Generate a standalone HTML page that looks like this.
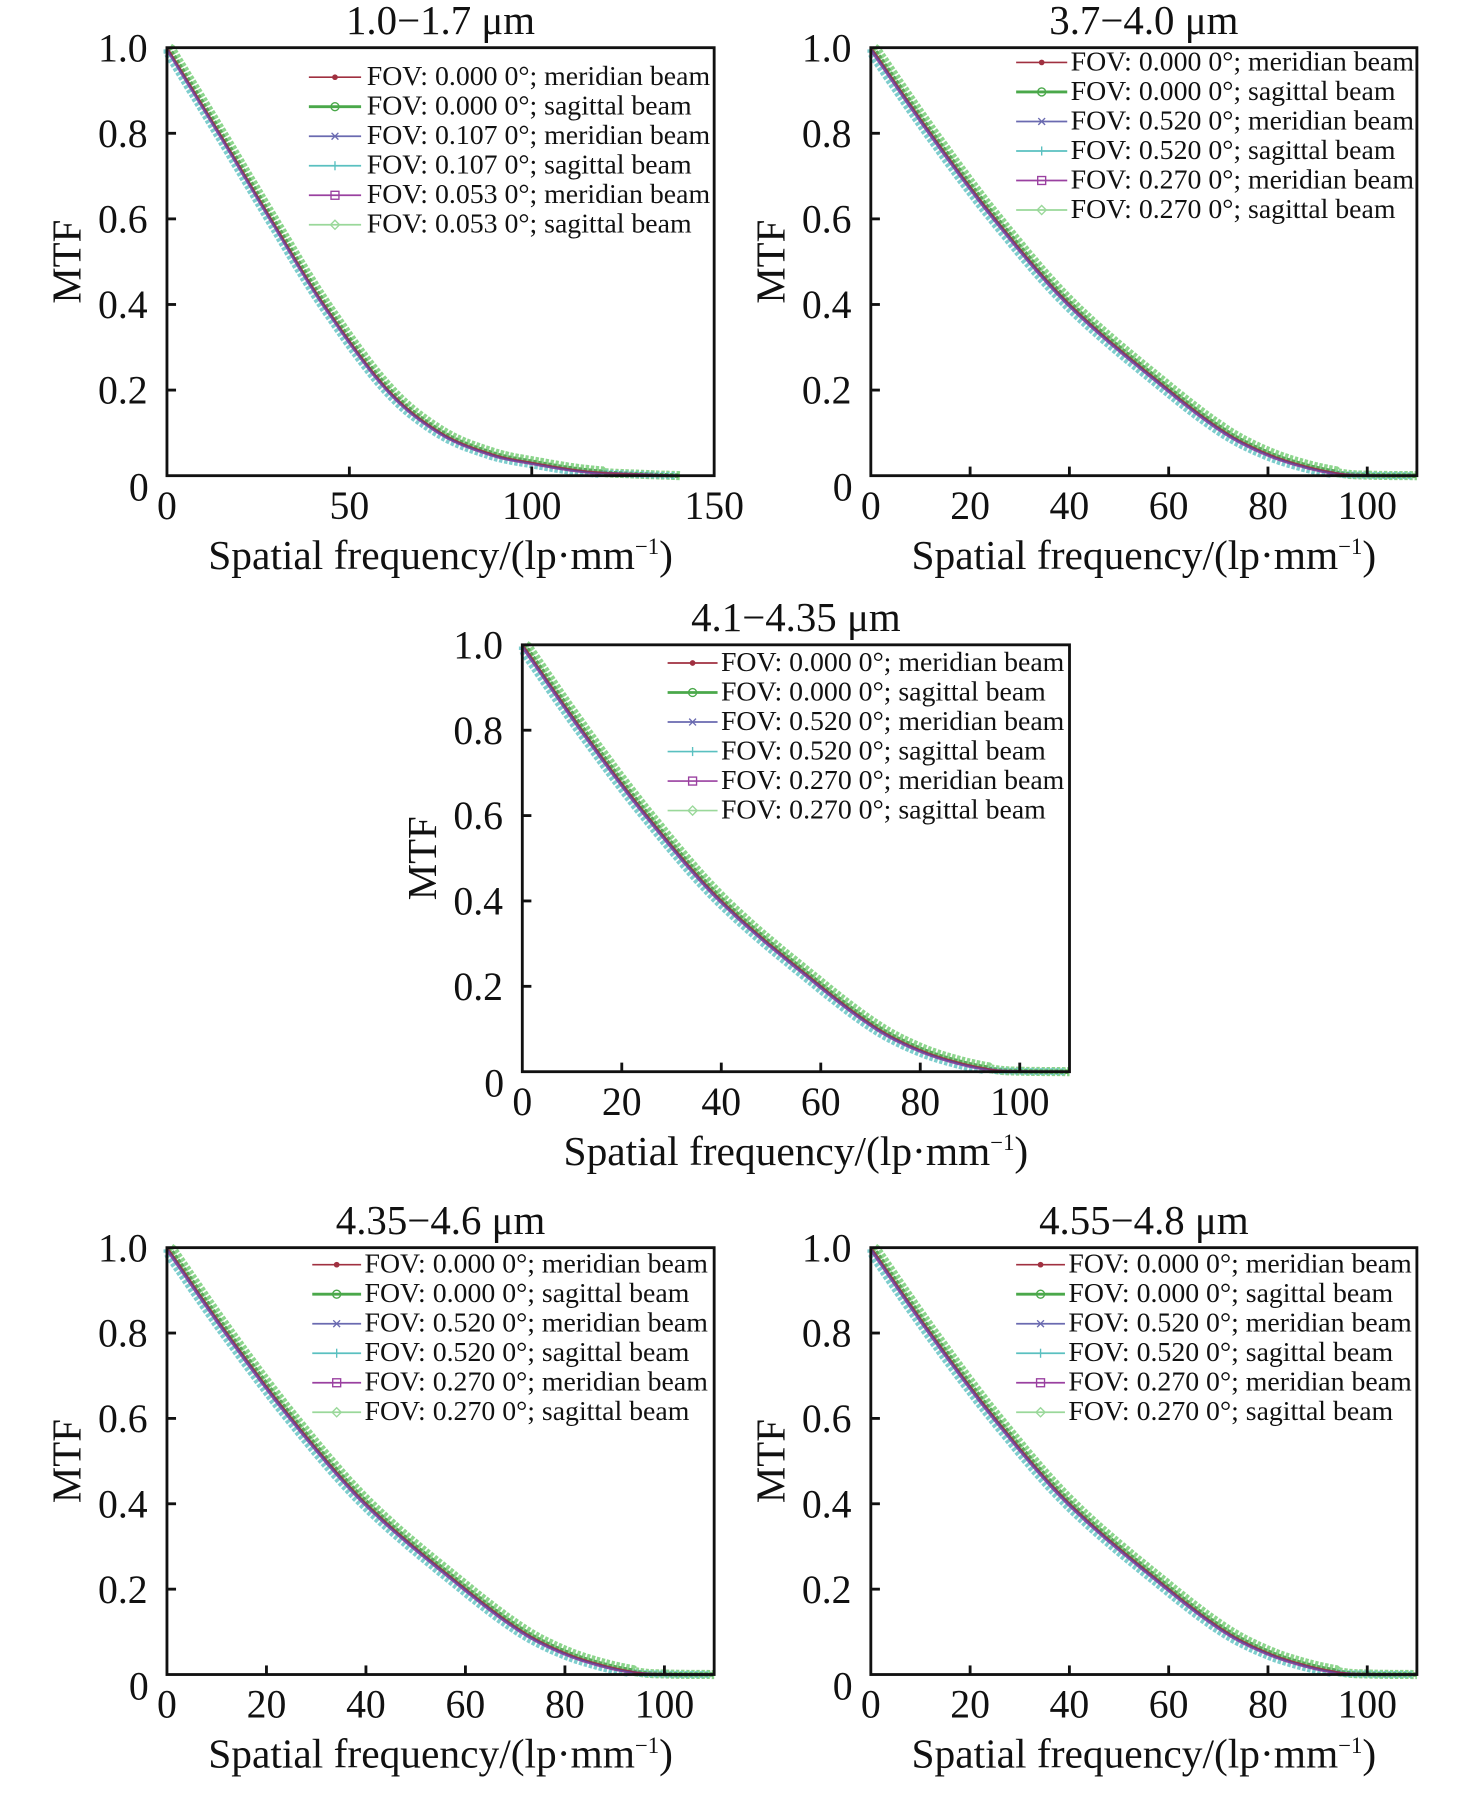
<!DOCTYPE html>
<html><head><meta charset="utf-8">
<style>
html,body{margin:0;padding:0;background:#fff;}
svg{display:block;}
text{font-family:"Liberation Serif","Times New Roman",serif;fill:#111;}
</style></head>
<body>
<svg id="s" width="1476" height="1796" viewBox="0 0 1300 1582" xmlns="http://www.w3.org/2000/svg">
<rect width="1300" height="1582" fill="#fff"/>
<g id="g"></g>
</svg>
<script>
var NS="http://www.w3.org/2000/svg";
var G=document.getElementById("g");
function el(t,a,txt){var e=document.createElementNS(NS,t);for(var k in a)e.setAttribute(k,a[k]);if(txt!==undefined)e.textContent=txt;G.appendChild(e);return e;}
function interp(pts,f){
  if(f<=pts[0][0])return pts[0][1];
  for(var i=0;i<pts.length-1;i++){
    if(f<=pts[i+1][0]){
      var p0=pts[Math.max(i-1,0)],p1=pts[i],p2=pts[i+1],p3=pts[Math.min(i+2,pts.length-1)];
      var t=(f-p1[0])/(p2[0]-p1[0]);
      var m1=(p2[1]-p0[1])/(p2[0]-p0[0])*(p2[0]-p1[0]);
      var m2=(p3[1]-p1[1])/(p3[0]-p1[0])*(p2[0]-p1[0]);
      var t2=t*t,t3=t2*t;
      return (2*t3-3*t2+1)*p1[1]+(t3-2*t2+t)*m1+(-2*t3+3*t2)*p2[1]+(t3-t2)*m2;
    }
  }
  return pts[pts.length-1][1];
}
var P1=[[0,1],[14.4,0.8],[28.5,0.6],[43,0.4],[60.6,0.2],[75,0.1],[89,0.05],[100,0.03],[115,0.01],[130,0.003],[140,0]];
var P2=[[0,1],[12,0.8],[25,0.6],[40,0.4],[60,0.2],[71.5,0.1],[80,0.05],[88,0.02],[95,0.004],[100,0.001],[110,0]];
function panel(o){
  var L=o.L,R=o.R,T=o.T,B=o.B,xmax=o.xmax;
  function X(f){return L+f/xmax*(R-L);}
  function Y(v){return B-v*(B-T);}
  var series=[
    {c:"#7fd07f",w:8,dx:0.7,dy:0.004,op:0.9},
    {c:"#6fc8c8",w:6,dx:-0.7,dy:-0.004,op:0.9},
    {c:"#5aa85a",w:4,dx:0.3,dy:0.002,op:1},
    {c:"#8a3a9a",w:2.2,dx:-0.2,dy:-0.002,op:0.9},
    {c:"#4a4aa0",w:1.5,dx:0,dy:0,op:0.8},
    {c:"#a03040",w:1.2,dx:0.1,dy:0.001,op:0.8}
  ];
  var fmax=o.fend;
  series.forEach(function(s,i){
    var d="";
    for(var f=0;f<=fmax;f+=0.5){
      var v=Math.max(0,interp(o.pts,f)+ (f<fmax*0.85? s.dy:0));
      v=Math.min(1,v);
      var x=X(Math.min(xmax,Math.max(0,f+s.dx))),y=Y(v);
      d+=(f==0?"M":"L")+x.toFixed(1)+" "+y.toFixed(1);
    }
    el("path",{d:d,fill:"none",stroke:s.c,"stroke-width":s.w,"stroke-opacity":s.op,"stroke-dasharray":i<3?"3 1.5":"none"});
  });
  el("rect",{x:L,y:T,width:R-L,height:B-T,fill:"none",stroke:"#111","stroke-width":2.5});
  [0.2,0.4,0.6,0.8].forEach(function(v){el("line",{x1:L,y1:Y(v),x2:L+8,y2:Y(v),stroke:"#111","stroke-width":2.5});});
  ["1.0","0.8","0.6","0.4","0.2"].forEach(function(t,i){
    el("text",{x:L-17,y:Y(1-0.2*i)+12,"text-anchor":"end","font-size":35},t);
  });
  el("text",{x:L-16,y:B+22,"text-anchor":"end","font-size":35},"0");
  o.xt.forEach(function(f){
    if(f>0&&f<xmax)el("line",{x1:X(f),y1:B,x2:X(f),y2:B-8,stroke:"#111","stroke-width":2.5});
    el("text",{x:X(f),y:B+38,"text-anchor":"middle","font-size":35},String(f));
  });
  var cx=(L+R)/2;
  el("text",{x:cx,y:T-12,"text-anchor":"middle","font-size":36},o.title);
  var xl=el("text",{x:cx,y:B+82,"text-anchor":"middle","font-size":36.5});
  xl.innerHTML='Spatial frequency/(lp·mm<tspan dy="-13" font-size="20">−1</tspan><tspan dy="13">)</tspan>';
  el("text",{x:0,y:0,"text-anchor":"middle","font-size":36,transform:"translate("+(L-76)+","+((T+B)/2)+") rotate(-90)"},"MTF");
  var cols=["#a03040","#4aa84a","#6a6ab0","#5ac0c0","#9a40a0","#9ad89a"];
  var mk=["*","o","x","+","s","d"];
  o.leg.forEach(function(t,i){
    var y=o.ly+i*26;
    el("line",{x1:o.lx1,y1:y,x2:o.lx2,y2:y,stroke:cols[i],"stroke-width":i==1?2.5:1.5});
    var mx=(o.lx1+o.lx2)/2;
    if(mk[i]=="o")el("circle",{cx:mx,cy:y,r:3.5,fill:"none",stroke:cols[i],"stroke-width":1.2});
    else if(mk[i]=="s")el("rect",{x:mx-3.5,y:y-3.5,width:7,height:7,fill:"none",stroke:cols[i],"stroke-width":1.2});
    else if(mk[i]=="d")el("path",{d:"M"+mx+" "+(y-4)+"l4 4l-4 4l-4 -4z",fill:"none",stroke:cols[i],"stroke-width":1.2});
    else if(mk[i]=="x")el("path",{d:"M"+(mx-3)+" "+(y-3)+"l6 6M"+(mx+3)+" "+(y-3)+"l-6 6",stroke:cols[i],"stroke-width":1.2});
    else if(mk[i]=="+")el("path",{d:"M"+mx+" "+(y-4)+"v8",stroke:cols[i],"stroke-width":1.2});
    else el("circle",{cx:mx,cy:y,r:2.5,fill:cols[i]});
    el("text",{x:o.tx,y:y+7,"font-size":24.5},t);
  });
}
var legA=["FOV: 0.000 0°; meridian beam","FOV: 0.000 0°; sagittal beam","FOV: 0.107 0°; meridian beam","FOV: 0.107 0°; sagittal beam","FOV: 0.053 0°; meridian beam","FOV: 0.053 0°; sagittal beam"];
var legB=["FOV: 0.000 0°; meridian beam","FOV: 0.000 0°; sagittal beam","FOV: 0.520 0°; meridian beam","FOV: 0.520 0°; sagittal beam","FOV: 0.270 0°; meridian beam","FOV: 0.270 0°; sagittal beam"];
panel({L:147,R:629,T:42,B:419,xmax:150,pts:P1,fend:140,xt:[0,50,100,150],title:"1.0−1.7 μm",leg:legA,lx1:272,lx2:318,tx:323,ly:68});
panel({L:767,R:1248,T:42,B:419,xmax:110,pts:P2,fend:110,xt:[0,20,40,60,80,100],title:"3.7−4.0 μm",leg:legB,lx1:895,lx2:940,tx:943,ly:55});
panel({L:460,R:942,T:568,B:944,xmax:110,pts:P2,fend:110,xt:[0,20,40,60,80,100],title:"4.1−4.35 μm",leg:legB,lx1:588,lx2:632,tx:635,ly:584});
panel({L:147,R:629,T:1099,B:1475,xmax:110,pts:P2,fend:110,xt:[0,20,40,60,80,100],title:"4.35−4.6 μm",leg:legB,lx1:275,lx2:318,tx:321,ly:1114});
panel({L:767,R:1248,T:1099,B:1475,xmax:110,pts:P2,fend:110,xt:[0,20,40,60,80,100],title:"4.55−4.8 μm",leg:legB,lx1:895,lx2:938,tx:941,ly:1114});
</script>
</body></html>
